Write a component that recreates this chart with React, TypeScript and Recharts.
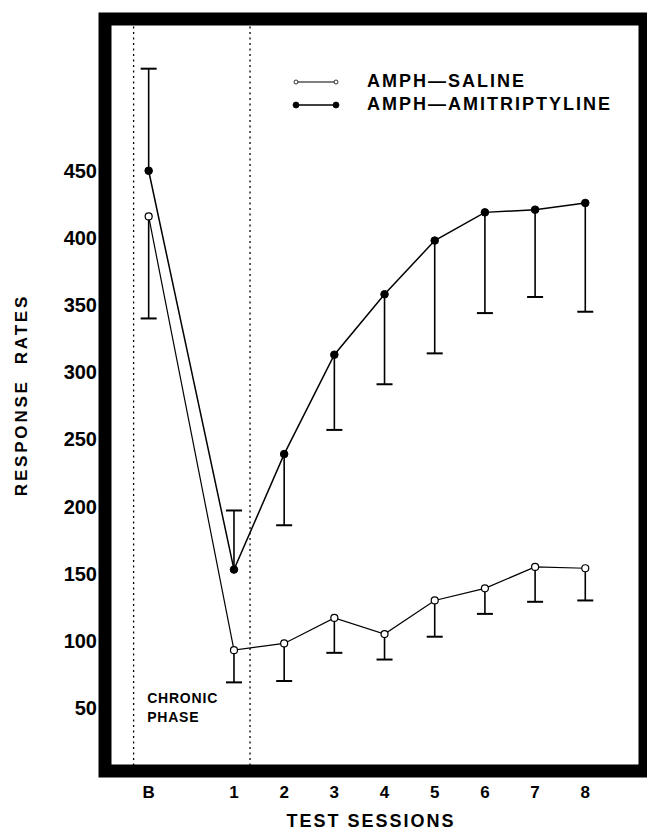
import {
  ComposedChart,
  Line,
  XAxis,
  YAxis,
  Legend,
  ReferenceLine,
  ReferenceDot,
  ReferenceArea,
} from "recharts";

const sessions = ["B", "1", "2", "3", "4", "5", "6", "7", "8"];
// where each session sits on the session scale (baseline is set apart)
const sessionX = [-0.7, 1, 2, 3, 4, 5, 6, 7, 8];

const saline = [416, 93, 98, 117, 105, 130, 139, 155, 154];
const salineErrEnd = [340, 69, 70, 91, 86, 103, 120, 129, 130];

const amitrip = [450, 153, 239, 313, 358, 398, 419, 421, 426];
const amitripErrEnd = [526, 197, 186, 257, 291, 314, 344, 356, 345];

const yTicks = [50, 100, 150, 200, 250, 300, 350, 400, 450];
const phaseBounds = [-1, 1.32];

const xDomain: [number, number] = [-1.57, 9.19];
const yDomain: [number, number] = [3, 563];

const SALINE_NAME = "AMPH—SALINE";
const AMITRIP_NAME = "AMPH—AMITRIPTYLINE";

const FONT = "'Liberation Sans', Arial, Helvetica, sans-serif";

const rows = sessionX.map((x, i) => ({
  x,
  session: sessions[i],
  saline: saline[i],
  amitrip: amitrip[i],
}));

const errorBars = [
  ...sessionX.map((x, i) => ({ x, from: saline[i], to: salineErrEnd[i] })),
  ...sessionX.map((x, i) => ({ x, from: amitrip[i], to: amitripErrEnd[i] })),
];

const tickLabel = (v: number) => sessions[sessionX.indexOf(v)] ?? "";

function Cap(p: any) {
  return (
    <line
      x1={p.cx - 8}
      x2={p.cx + 8}
      y1={p.cy}
      y2={p.cy}
      stroke="#000"
      strokeWidth={2}
    />
  );
}

function LegendBox() {
  const items = [
    { name: SALINE_NAME, filled: false },
    { name: AMITRIP_NAME, filled: true },
  ];
  return (
    <div style={{ fontFamily: FONT, width: 340 }}>
      {items.map((it) => (
        <div
          key={it.name}
          style={{ display: "flex", alignItems: "center", height: 23 }}
        >
          <svg
            width={48}
            height={12}
            style={{ marginRight: 27, flexShrink: 0, display: "block" }}
          >
            <line
              x1={4}
              x2={44}
              y1={6}
              y2={6}
              stroke="#000"
              strokeWidth={it.filled ? 1.6 : 1}
            />
            <circle
              cx={4}
              cy={6}
              r={it.filled ? 3 : 2}
              fill={it.filled ? "#000" : "#fff"}
              stroke="#000"
              strokeWidth={0.8}
            />
            <circle
              cx={44}
              cy={6}
              r={it.filled ? 3 : 2}
              fill={it.filled ? "#000" : "#fff"}
              stroke="#000"
              strokeWidth={0.8}
            />
          </svg>
          <span
            style={{
              fontSize: 18,
              fontWeight: 700,
              letterSpacing: 2,
              color: "#000",
              whiteSpace: "nowrap",
            }}
          >
            {it.name}
          </span>
        </div>
      ))}
    </div>
  );
}

export default function App() {
  return (
    <div
      style={{
        position: "absolute",
        left: 0,
        top: 0,
        width: 647,
        height: 831,
        background: "#fff",
      }}
    >
      <ComposedChart
        width={647}
        height={831}
        data={rows}
        margin={{ top: 19, right: 2, bottom: 0, left: 0 }}
      >
        <XAxis
          dataKey="x"
          type="number"
          domain={xDomain}
          ticks={sessionX}
          tickFormatter={tickLabel}
          axisLine={false}
          tickLine={false}
          tickSize={0}
          tickMargin={15}
          height={60}
          allowDataOverflow
          tick={{ fontSize: 17, fontWeight: 700, fill: "#000", fontFamily: FONT }}
          label={{
            content: (p: any) => (
              <text
                x={p.viewBox.x + p.viewBox.width / 2 - 4}
                y={p.viewBox.y + p.viewBox.height - 4}
                textAnchor="middle"
                fontSize={18}
                fontWeight={700}
                letterSpacing={2}
                fontFamily={FONT}
                fill="#000"
              >
                TEST SESSIONS
              </text>
            ),
          }}
        />
        <YAxis
          type="number"
          domain={yDomain}
          ticks={yTicks}
          width={105}
          axisLine={false}
          tickLine={false}
          tickSize={0}
          tickMargin={8}
          allowDataOverflow
          tick={{ fontSize: 20, fontWeight: 700, fill: "#000", fontFamily: FONT }}
          label={{
            content: (p: any) => {
              const cx = p.viewBox.x + 21;
              const cy = p.viewBox.y + p.viewBox.height / 2;
              return (
                <text
                  x={cx}
                  y={cy}
                  transform={`rotate(-90, ${cx}, ${cy})`}
                  textAnchor="middle"
                  dominantBaseline="central"
                  fontSize={17}
                  fontWeight={700}
                  letterSpacing={2.8}
                  fontFamily={FONT}
                  fill="#000"
                  style={{ whiteSpace: "pre" }}
                >
                  {"RESPONSE  RATES"}
                </text>
              );
            },
          }}
        />
        <Legend
          content={() => <LegendBox />}
          wrapperStyle={{
            left: 292,
            top: 70,
            width: 340,
            height: 0,
            bottom: "auto",
            overflow: "visible",
          }}
        />

        {phaseBounds.map((b) => (
          <ReferenceLine
            key={`phase-${b}`}
            x={b}
            stroke="#000"
            strokeWidth={1.3}
            strokeDasharray="2 3.5"
          />
        ))}

        <ReferenceDot
          x={-0.73}
          y={57}
          r={0}
          ifOverflow="visible"
          shape={(p: any) => (
            <text
              x={p.cx}
              y={p.cy}
              fontSize={14}
              fontWeight={700}
              letterSpacing={0.8}
              fontFamily={FONT}
              fill="#000"
            >
              <tspan x={p.cx} dy={5}>CHRONIC</tspan>
              <tspan x={p.cx} dy={19}>PHASE</tspan>
            </text>
          )}
        />

        {errorBars.map((e, i) => (
          <ReferenceLine
            key={`stem-${i}`}
            segment={[
              { x: e.x, y: e.from },
              { x: e.x, y: e.to },
            ]}
            stroke="#000"
            strokeWidth={1.6}
          />
        ))}
        {errorBars.map((e, i) => (
          <ReferenceDot
            key={`cap-${i}`}
            x={e.x}
            y={e.to}
            r={0}
            ifOverflow="visible"
            shape={Cap}
          />
        ))}

        <Line
          dataKey="saline"
          name={SALINE_NAME}
          stroke="#000"
          strokeWidth={1.2}
          dot={{ r: 3.5, fill: "#fff", stroke: "#000", strokeWidth: 1.2 }}
          isAnimationActive={false}
        />
        <Line
          dataKey="amitrip"
          name={AMITRIP_NAME}
          stroke="#000"
          strokeWidth={1.5}
          dot={{ r: 3.8, fill: "#000", stroke: "#000", strokeWidth: 1 }}
          isAnimationActive={false}
        />

        <ReferenceArea
          x1={xDomain[0]}
          x2={xDomain[1]}
          y1={yDomain[0]}
          y2={yDomain[1]}
          fill="none"
          fillOpacity={0}
          stroke="#000"
          strokeWidth={13}
          ifOverflow="visible"
        />
      </ComposedChart>
    </div>
  );
}
